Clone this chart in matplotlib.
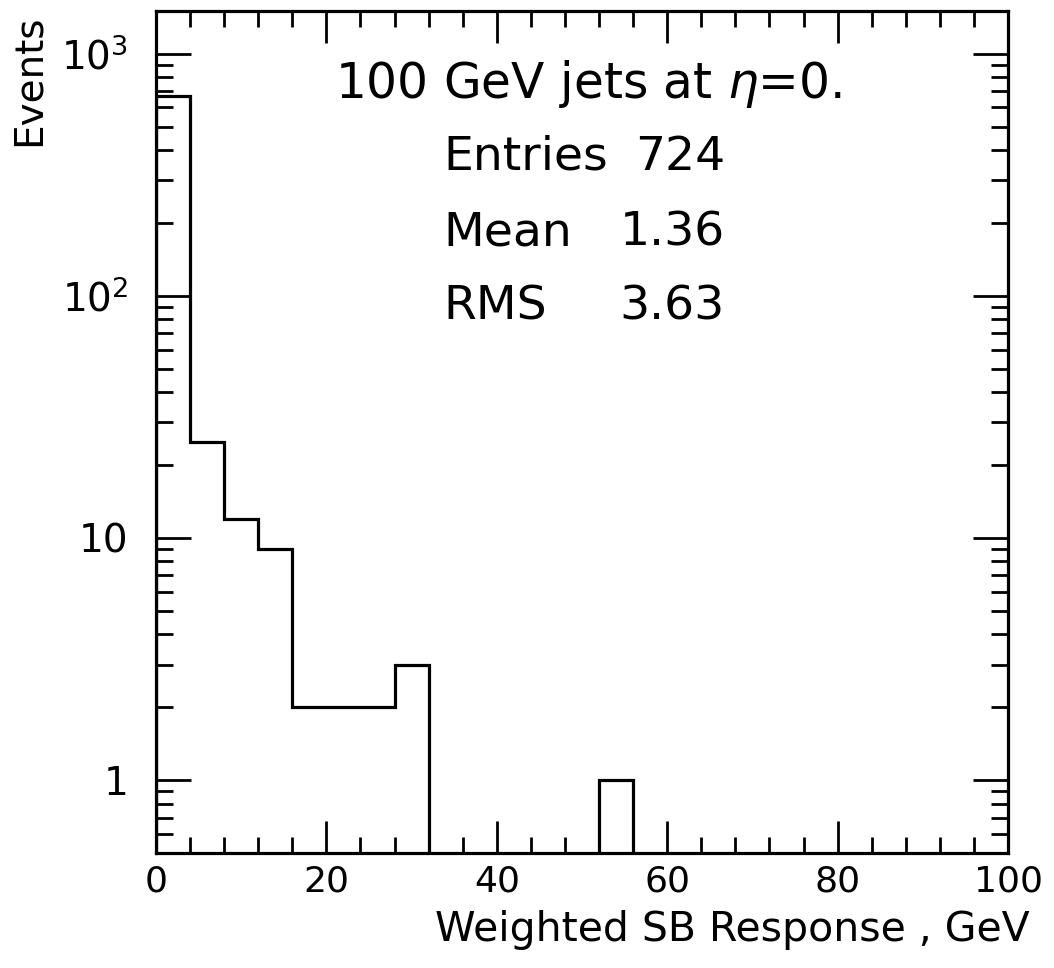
import matplotlib
matplotlib.use("Agg")
import matplotlib.pyplot as plt
import numpy as np
from matplotlib.ticker import LogLocator, MultipleLocator, NullFormatter

# histogram contents, 4 GeV bins from 0 to 100
edges = np.arange(0, 104, 4)
counts = [668, 25, 12, 9, 2, 2, 2, 3, 0, 0, 0, 0, 0, 1,
          0, 0, 0, 0, 0, 0, 0, 0, 0, 0, 0]
ytick_vals = [1, 10, 100, 1000]
ytick_labels = ["1", "10", r"$10^{2}$", r"$10^{3}$"]
xtick_vals = [0, 20, 40, 60, 80, 100]
title = r"100 GeV jets at $\eta$=0."
stats = [("Entries", "724"), ("Mean", "1.36"), ("RMS", "3.63")]

W, H = 1054, 968
plt.rcParams["font.family"] = "DejaVu Sans"
plt.rcParams["mathtext.fontset"] = "dejavusans"
fig = plt.figure(figsize=(W / 100, H / 100), dpi=100)

def fx(px):
    return px / W

def fy(py):
    return 1 - py / H

ax = fig.add_axes([fx(156), fy(853), fx(1008) - fx(156), fy(11) - fy(853)])
ax.stairs(counts, edges, color="black", lw=2.3)
ax.set_yscale("log")
ax.set_xlim(0, 100)
ax.set_ylim(0.5, 1500)

for s in ax.spines.values():
    s.set_linewidth(2.3)

ax.set_xticks(xtick_vals)
ax.set_xticklabels([str(v) for v in xtick_vals])
ax.xaxis.set_minor_locator(MultipleLocator(4))
ax.set_yticks(ytick_vals)
ax.set_yticklabels(ytick_labels)
ax.yaxis.set_minor_locator(LogLocator(base=10, subs=np.arange(2, 10)))
ax.yaxis.set_minor_formatter(NullFormatter())

ax.tick_params(which="both", direction="in", top=True, right=True, width=2.0)
ax.tick_params(axis="x", which="major", length=23, pad=8, labelsize=26)
ax.tick_params(axis="x", which="minor", length=11.5)
ax.tick_params(axis="y", which="major", length=25, pad=20, labelsize=28)
ax.tick_params(axis="y", which="minor", length=12)

fig.text(fx(588), fy(98), title, ha="center", va="baseline", fontsize=35)
bases = [170, 245, 320]
for (lab, val), b in zip(stats, bases):
    fig.text(fx(443), fy(b), lab, ha="left", va="baseline", fontsize=34)
    fig.text(fx(725), fy(b), val, ha="right", va="baseline", fontsize=34)

fig.text(fx(29), fy(15), "Events", rotation=90, ha="center", va="top", fontsize=28)
fig.text(fx(1030), fy(941), "Weighted SB Response , GeV", ha="right",
         va="baseline", fontsize=29.5)

fig.savefig("out.png", dpi=100)
